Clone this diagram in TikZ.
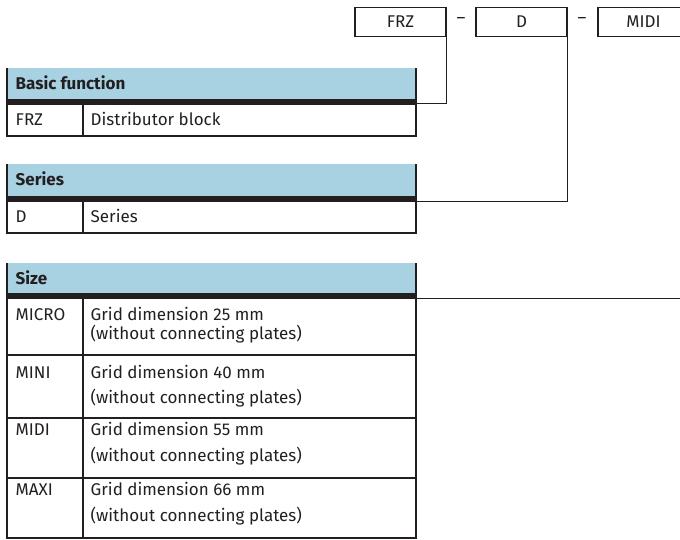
\documentclass[tikz,border=0pt]{standalone}
\usepackage{fontspec}
\setmainfont{Fira Sans}
\definecolor{headblue}{RGB}{168,209,226}
\definecolor{inkblack}{RGB}{35,31,32}

\begin{document}
\begin{tikzpicture}[x=1pt,y=-1pt,line width=1.4pt,draw=inkblack,text=inkblack,
    font=\fontsize{17}{19}\selectfont,
    codebox/.style={draw,minimum width=91pt,minimum height=29pt,inner sep=0pt},
    celltext/.style={anchor=base west,inner sep=0pt},
    headtext/.style={celltext,font=\fontsize{17}{19}\selectfont\bfseries}]
    \useasboundingbox (0,0) rectangle (680,540);
    % order code
    \node[codebox] (frz) at (400.5,22) {FRZ};
    \node[codebox] (ser) at (521.5,22) {D};
    \node[codebox] (siz) at (643.5,22) {MIDI};
    \node (dash1) at (461,21) {--};
    \node (dash2) at (582,21) {--};
    % basic function
    \fill[headblue] (7,68) rectangle (416,99);
    \fill[inkblack] (7,99) rectangle (416,105);
    \draw (7,68) -- (7,136) -- (416,136) -- (416,68);
    \draw (83,105) -- (83,136);
    \node[headtext] (hbasic) at (15,90) {Basic function};
    \node[celltext] (kfrz) at (15,126) {FRZ};
    \node[celltext] (tfrz) at (90,126) {Distributor block};
    \coordinate (basic) at (416,103.5);
    \draw (frz.south east) |- (basic);
    % series
    \fill[headblue] (7,164) rectangle (416,196);
    \fill[inkblack] (7,196) rectangle (416,202);
    \draw (7,164) -- (7,233) -- (416,233) -- (416,164);
    \draw (83,202) -- (83,233);
    \node[headtext] (hseries) at (15,186) {Series};
    \node[celltext] (kd) at (15,223) {D};
    \node[celltext] (td) at (90,223) {Series};
    \coordinate (series) at (416,201.5);
    \draw (ser.south east) |- (series);
    % size
    \fill[headblue] (7,263) rectangle (416,293);
    \fill[inkblack] (7,293) rectangle (416,299);
    \draw (7,263) -- (7,538) -- (416,538) -- (416,263);
    \draw (83,299) -- (83,538);
    \node[headtext] (hsize) at (15,284) {Size};
    \foreach \name/\grid/\first/\second/\bottom in
        {MICRO/25/320/339/355, MINI/40/378/403/418, MIDI/55/435/461/478, MAXI/66/495/521/538} {
        \node[celltext] at (15,\first) {\name};
        \node[celltext] at (90,\first) {Grid dimension \grid\ mm};
        \node[celltext] at (90,\second) {(without connecting plates)};
        \draw (7,\bottom) -- (416,\bottom);
    }
    \coordinate (size) at (416,298.5);
    \coordinate (sizeend) at (680,298.5);
    \draw (size) -- (sizeend);
\end{tikzpicture}
\end{document}
